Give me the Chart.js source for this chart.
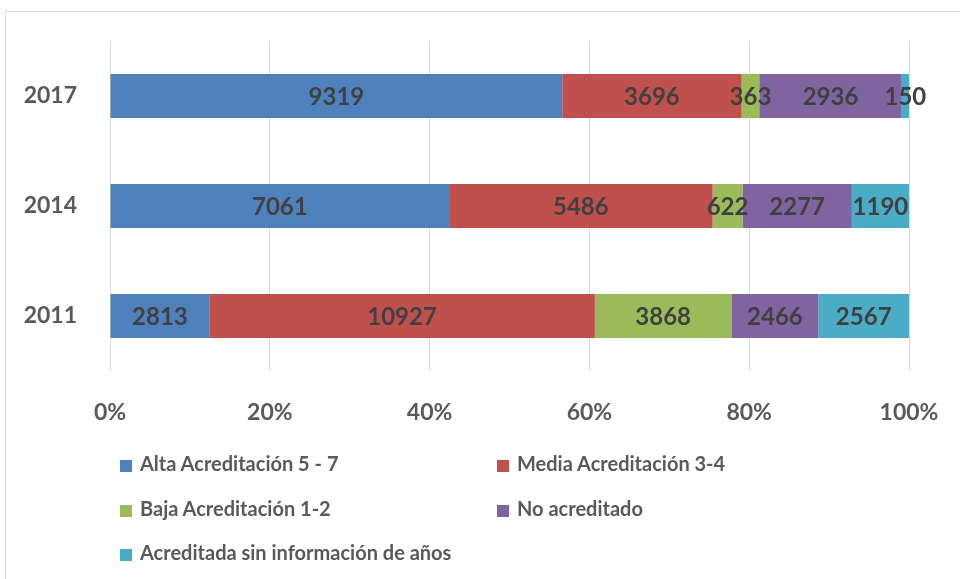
<!DOCTYPE html>
<html>
<head>
<meta charset="utf-8">
<script src="https://cdn.jsdelivr.net/npm/chart.js@4"></script>
<style>
  body { margin: 0; background: #fff; }
  #wrap { position: relative; width: 960px; height: 579px; overflow: hidden; }
  #frame { position: absolute; left: 5px; top: 11px; width: 1000px; height: 700px; border: 1px solid #d9d9d9; }
  canvas { position: absolute; left: 0; top: 0; }
  .leg { position: absolute; font: bold 20px Lato, sans-serif; color: #595959; white-space: nowrap; line-height: 20px; }
  .leg span { display: inline-block; width: 12px; height: 12px; margin-right: 8px; vertical-align: -1px; }
</style>
</head>
<body>
<div id="wrap">
  <div id="frame"></div>
  <canvas id="chart" width="960" height="579"></canvas>
  <div id="legend"></div>
</div>
<script>
const years = ['2017', '2014', '2011']
const seriesNames = ['Alta Acreditación 5 - 7', 'Media Acreditación 3-4', 'Baja Acreditación 1-2', 'No acreditado', 'Acreditada sin información de años']
const alta = [9319, 7061, 2813]
const media = [3696, 5486, 10927]
const baja = [363, 622, 3868]
const noAcred = [2936, 2277, 2466]
const sinInfo = [150, 1190, 2567]
const xTicks = ['0%', '20%', '40%', '60%', '80%', '100%']
const colors = ['#4f81bd', '#c0504d', '#9bbb59', '#8064a2', '#4bacc6']

const series = [alta, media, baja, noAcred, sinInfo]
const totals = years.map((y, i) => series.reduce((s, arr) => s + arr[i], 0))

// draws the raw counts in the middle of each segment
const valueLabels = {
  id: 'valueLabels',
  afterDatasetsDraw(chart) {
    const ctx = chart.ctx
    ctx.save()
    ctx.font = 'bold 24px Lato, sans-serif'
    ctx.fillStyle = '#404040'
    ctx.textAlign = 'center'
    ctx.textBaseline = 'middle'
    chart.data.datasets.forEach((ds, di) => {
      chart.getDatasetMeta(di).data.forEach((bar, i) => {
        ctx.fillText(ds.raw[i], (bar.x + bar.base) / 2, bar.y + 1)
      })
    })
    ctx.restore()
  }
}

new Chart(document.getElementById('chart'), {
  type: 'bar',
  data: {
    labels: years,
    datasets: series.map((arr, k) => ({
      label: seriesNames[k],
      raw: arr,
      data: arr.map((v, i) => v / totals[i] * 100),
      backgroundColor: colors[k],
      barPercentage: 0.4,
      categoryPercentage: 1
    }))
  },
  options: {
    indexAxis: 'y',
    responsive: false,
    animation: false,
    layout: { padding: { top: 41, right: 51, bottom: 139, left: 0 } },
    plugins: { legend: { display: false }, tooltip: { enabled: false } },
    scales: {
      x: {
        stacked: true, min: 0, max: 100,
        afterFit: s => { s.height = 69; s.paddingLeft = 0; s.paddingRight = 0 },
        grid: { color: '#d9d9d9', drawTicks: false },
        border: { display: false },
        ticks: {
          stepSize: 20, padding: 28, color: '#595959',
          font: { family: 'Lato', size: 23, weight: 'bold' },
          callback: (v, i) => xTicks[i]
        }
      },
      y: {
        stacked: true,
        afterFit: s => { s.width = 110; s.paddingTop = 0; s.paddingBottom = 0 },
        grid: { display: false },
        border: { display: false },
        ticks: { padding: 25, color: '#595959', font: { family: 'Lato', size: 23, weight: 'bold' } }
      }
    }
  },
  plugins: [valueLabels]
})

const pos = [[120, 463], [497, 463], [120, 508], [497, 508], [120, 552]]
const legend = document.getElementById('legend')
seriesNames.forEach((name, k) => {
  const d = document.createElement('div')
  d.className = 'leg'
  d.style.left = pos[k][0] + 'px'
  d.style.top = (pos[k][1] - 10) + 'px'
  d.innerHTML = '<span style="background:' + colors[k] + '"></span>' + name
  legend.appendChild(d)
})
</script>
</body>
</html>
